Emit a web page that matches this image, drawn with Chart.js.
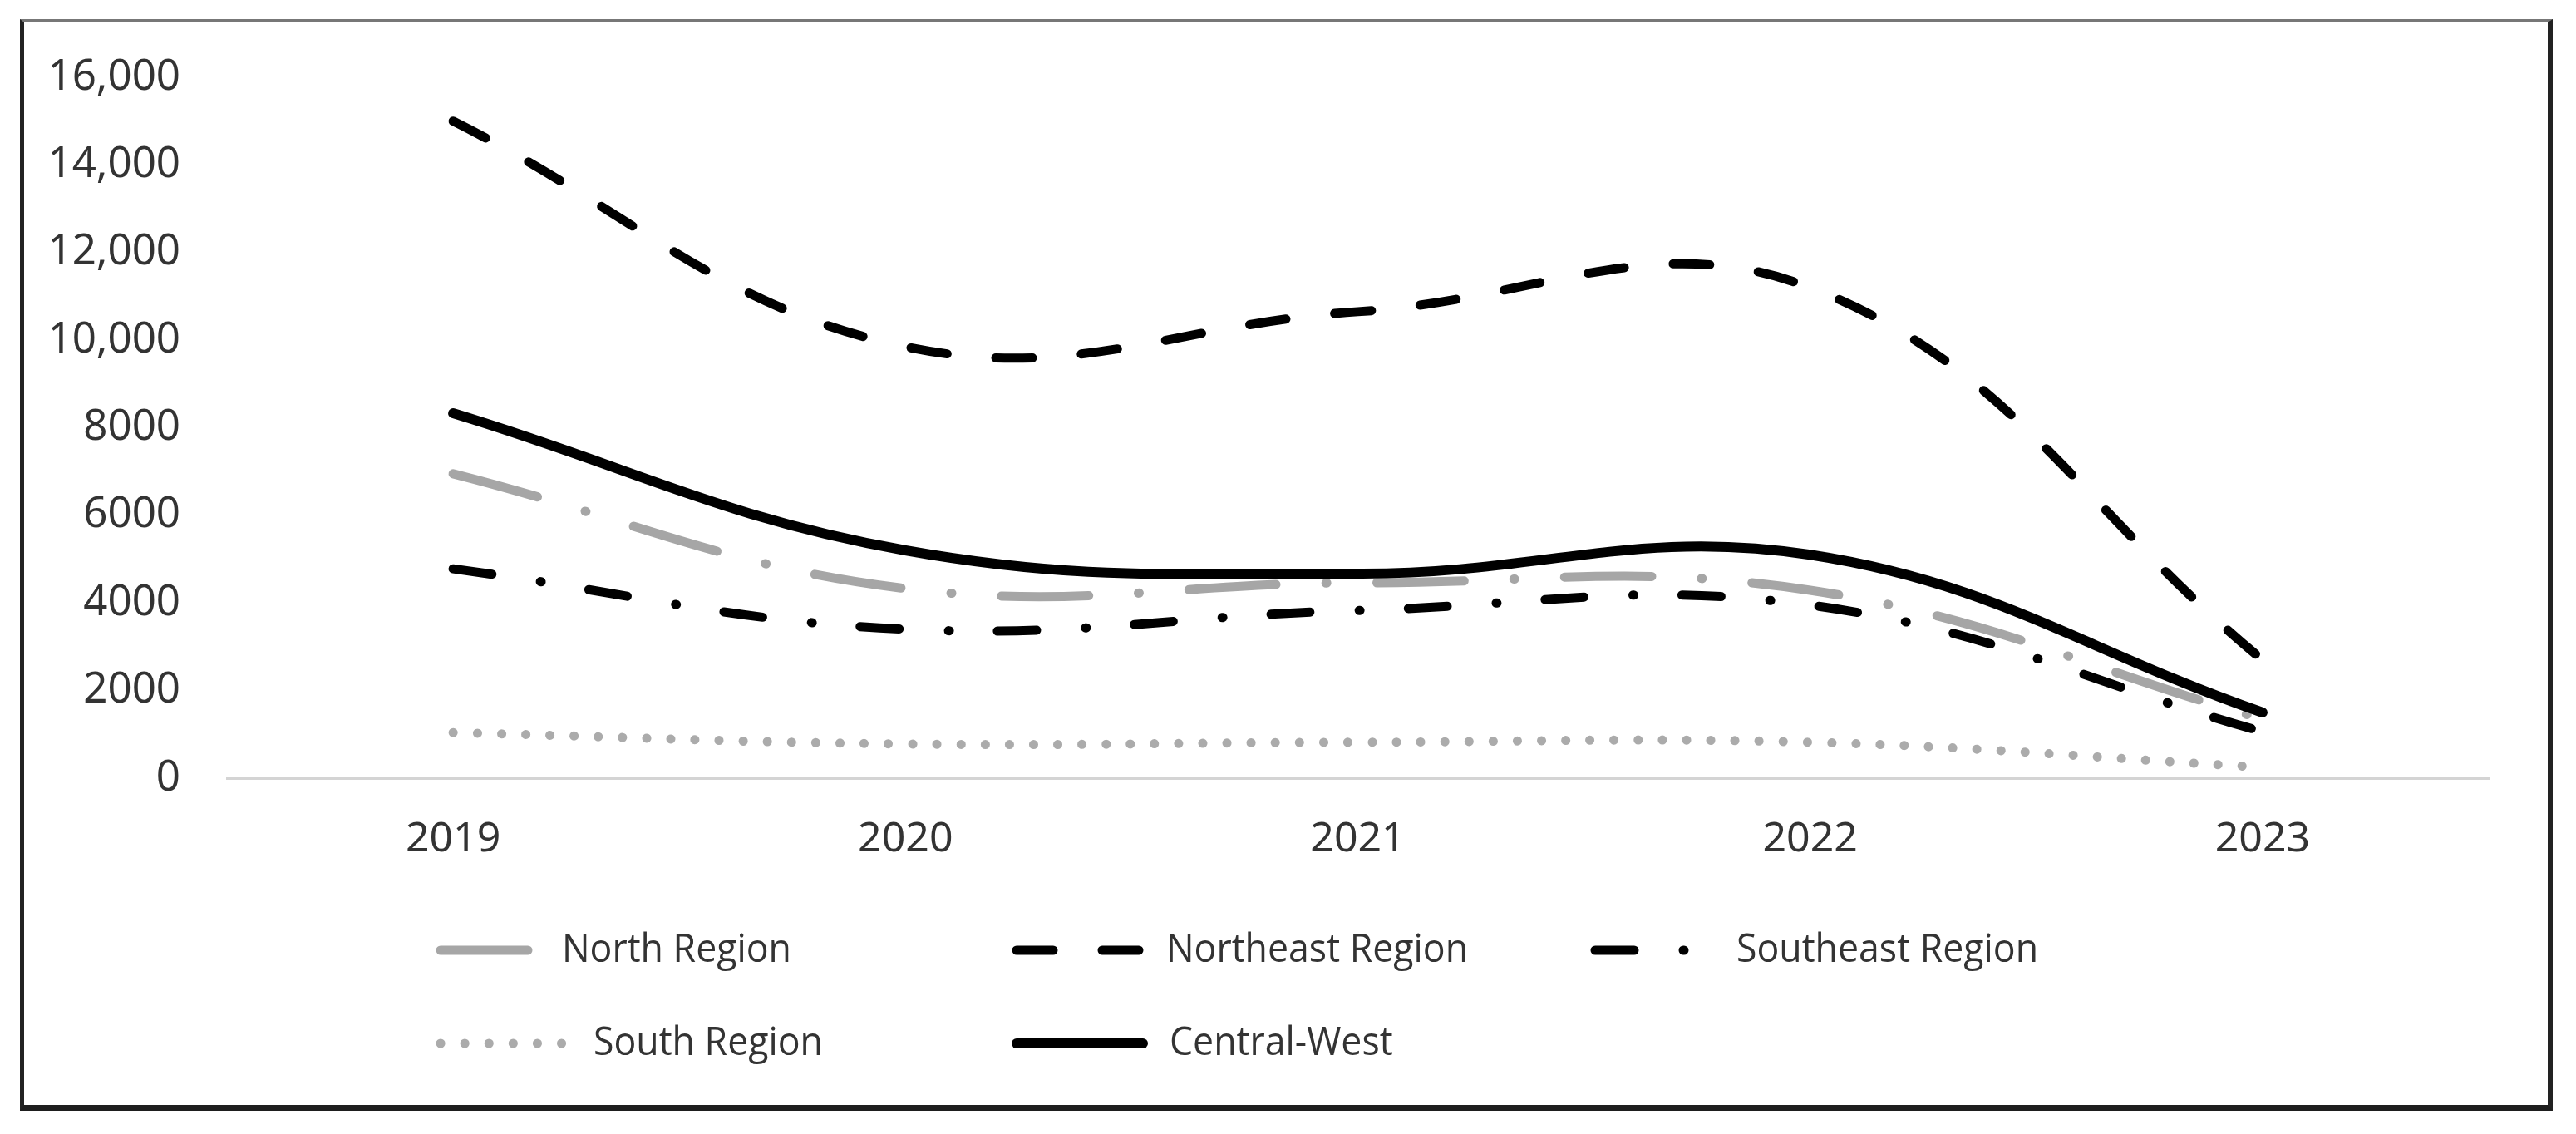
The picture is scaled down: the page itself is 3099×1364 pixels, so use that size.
<!DOCTYPE html>
<html>
<head>
<meta charset="utf-8">
<script src="https://cdn.jsdelivr.net/npm/chart.js@4.4.1/dist/chart.umd.min.js"></script>
<style>
  html, body { margin: 0; padding: 0; background: #fff; }
  body { width: 3099px; height: 1364px; position: relative; overflow: hidden; }
  #frame {
    position: absolute; left: 24px; top: 23px; width: 3047px; height: 1313px;
    box-sizing: border-box;
    border-left: 5px solid #222; border-right: 6px solid #222;
    border-top: 4px solid #777; border-bottom: 7px solid #1e1e1e;
  }
  #regionsChart { position: absolute; left: 0; top: 0; width: 3099px; height: 1364px; }
</style>
</head>
<body>
<div id="frame"></div>
<canvas id="regionsChart" width="3099" height="1364"></canvas>
<script>
const years = ['2019', '2020', '2021', '2022', '2023'];
const northRegion = [6950, 4330, 4460, 4290, 1350];
const northeastRegion = [15000, 9850, 10650, 11200, 2700];
const southeastRegion = [4780, 3400, 3830, 3950, 1060];
const southRegion = [1040, 780, 820, 820, 250];
const centralWest = [8330, 5200, 4670, 5100, 1500];
const yTicks = [0, 2000, 4000, 6000, 8000, 10000, 12000, 14000, 16000];

const FONT = "'Noto Sans', 'Open Sans', sans-serif";
const ctx = document.getElementById('regionsChart').getContext('2d');

// legend slots: [symbol x, row y, text offset] in canvas pixels
const legendSlots = [[524, 1143, 152], [1217, 1143, 186], [1913, 1143, 176], [524, 1255, 190], [1217, 1255, 190]];

const mkSet = (label, data, color, dash, width, order) => ({
    label, data,
    borderColor: color,
    backgroundColor: color,
    borderWidth: width,
    borderDash: dash,
    borderCapStyle: 'round',
    borderJoinStyle: 'round',
    pointRadius: 0,
    pointHoverRadius: 0,
    fill: false,
    tension: 0.4,
    order
});

const lineLegend = {
    id: 'lineLegend',
    afterDraw(chart) {
        const c = chart.ctx;
        chart.data.datasets.forEach((ds, i) => {
            const [x, y, tx] = legendSlots[i];
            c.save();
            c.strokeStyle = ds.borderColor;
            c.lineWidth = ds.borderWidth;
            c.lineCap = 'round';
            c.setLineDash(ds.borderDash);
            c.beginPath();
            c.moveTo(x + 6, y);
            c.lineTo(x + 158, y);
            c.stroke();
            c.setLineDash([]);
            c.fillStyle = '#333';
            c.font = "48px 'Open Sans', 'Noto Sans', sans-serif";
            c.textBaseline = 'middle';
            c.translate(x + tx, y);
            c.scale(0.93, 1);
            c.fillText(ds.label, 0, 0);
            c.restore();
        });
    }
};

new Chart(ctx, {
    type: 'line',
    data: {
        labels: years,
        datasets: [
            mkSet('North Region', northRegion, '#a6a6a6', [105, 60, 1, 60], 11, 5),
            mkSet('Northeast Region', northeastRegion, '#000', [44, 59], 11, 4),
            mkSet('Southeast Region', southeastRegion, '#000', [47, 59, 1, 58], 11, 3),
            mkSet('South Region', southRegion, '#ababab', [0.1, 29], 11, 2),
            mkSet('Central-West', centralWest, '#000', [], 12, 1)
        ]
    },
    options: {
        responsive: false,
        animation: false,
        devicePixelRatio: 1,
        layout: { padding: { top: 93, left: 0, right: 105, bottom: 328 } },
        plugins: {
            legend: { display: false },
            tooltip: { enabled: false }
        },
        scales: {
            x: {
                offset: true,
                grid: { display: false, drawTicks: false },
                border: { display: true, color: '#d4d4d4', width: 3 },
                ticks: { color: '#333', padding: 44, font: { family: FONT, size: 50 } },
                afterFit: s => { s.height = 100; }
            },
            y: {
                min: 0,
                max: 16000,
                grid: { display: false, drawTicks: false },
                border: { display: false },
                afterBuildTicks: s => { s.ticks = yTicks.map(v => ({ value: v })); },
                ticks: {
                    color: '#333',
                    padding: 56,
                    font: { family: FONT, size: 51 },
                    callback: v => v >= 10000 ? v.toLocaleString('en-US') : String(v)
                },
                afterFit: s => { s.width = 273; }
            }
        }
    },
    plugins: [lineLegend]
});
</script>
</body>
</html>
